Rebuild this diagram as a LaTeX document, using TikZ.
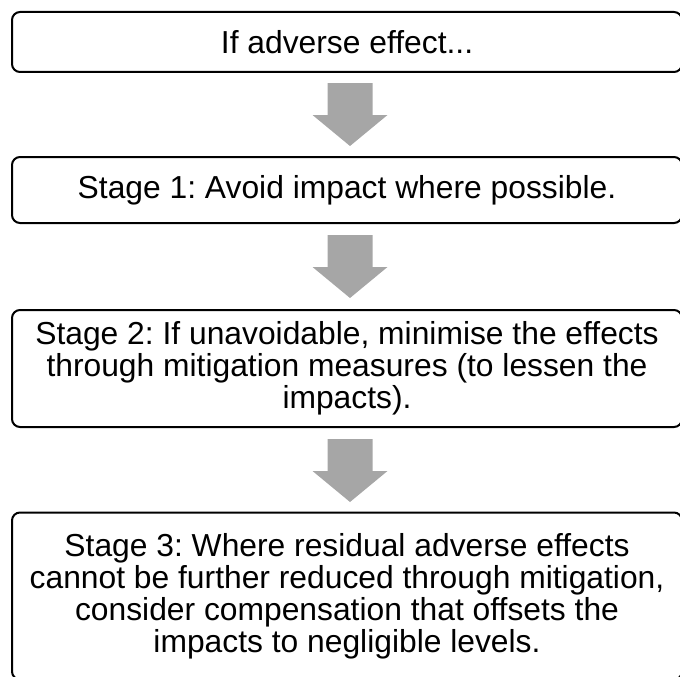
\documentclass[tikz,border=0pt]{standalone}
\usepackage{fontspec}
\setmainfont{Liberation Sans}
\usetikzlibrary{calc}
\definecolor{arrowgray}{RGB}{166,166,166}
\newcommand\blkarrow[1]{\fill[arrowgray] ($(#1)+(-22.5,0)$) -- ++(45,0) -- ++(0,32) -- ++(15,0) -- ++(-37.5,31) -- ++(-37.5,-31) -- ++(15,0) -- cycle;}
\begin{document}
\frenchspacing
\begin{tikzpicture}[x=1pt,y=-1pt,
  box/.style={draw=black, line width=2pt, rounded corners=8pt, align=center,
    font=\fontsize{31.8}{32}\selectfont, minimum width=670pt, inner sep=0pt}]
\useasboundingbox (0,0) rectangle (680,677);
\clip (0,0) rectangle (680,677);
\node[box, minimum height=60pt] (b1) at (347,42) {If adverse effect...};
\node[box, minimum height=66pt] (b2) at (347,190) {Stage 1: Avoid impact where possible.};
\node[box, minimum height=117pt] (b3) at (347,368.5) {Stage 2: If unavoidable, minimise the effects\\through mitigation measures (to lessen the\\impacts).};
\node[box, minimum height=167pt] (b4) at (347,596) {Stage 3: Where residual adverse effects\\cannot be further reduced through mitigation,\\consider compensation that offsets the\\impacts to negligible levels.};
\coordinate (a1) at ($(b1.south)+(3,10)$);
\coordinate (a2) at ($(b2.south)+(3,11)$);
\coordinate (a3) at ($(b3.south)+(3,11)$);
\blkarrow{a1}
\blkarrow{a2}
\blkarrow{a3}
\end{tikzpicture}
\end{document}
